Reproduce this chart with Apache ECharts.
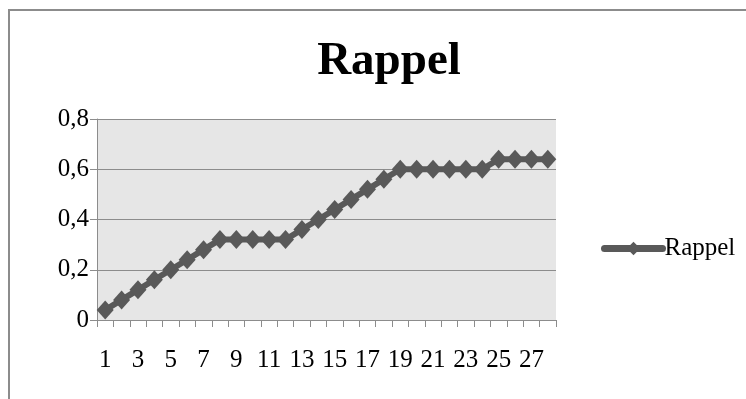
<!DOCTYPE html>
<html>
<head>
<meta charset="utf-8">
<script src="https://cdn.jsdelivr.net/npm/echarts@6/dist/echarts.min.js"></script>
<style>
  html, body { margin: 0; padding: 0; background: #fff; }
  #chart { width: 746px; height: 399px; }
</style>
</head>
<body>
<div id="chart"></div>
<script>
// Category labels 1..28 and recall values per step
const categories = ['1','2','3','4','5','6','7','8','9','10','11','12','13','14',
  '15','16','17','18','19','20','21','22','23','24','25','26','27','28'];
const rappel = [0.04, 0.08, 0.12, 0.16, 0.20, 0.24, 0.28, 0.32, 0.32, 0.32, 0.32, 0.32,
  0.36, 0.40, 0.44, 0.48, 0.52, 0.56, 0.60, 0.60, 0.60, 0.60, 0.60, 0.60,
  0.64, 0.64, 0.64, 0.64];
const yTicks = [0, 0.2, 0.4, 0.6, 0.8];

const serif = "'Liberation Serif', 'Times New Roman', serif";
const lineColor = '#595959';
const axisGray = '#8c8c8c';

const chart = echarts.init(document.getElementById('chart'), null, { renderer: 'canvas' });
chart.setOption({
  animation: false,
  backgroundColor: '#ffffff',
  title: {
    text: 'Rappel',
    left: 384,
    top: 33,
    textAlign: 'center',
    textStyle: { fontFamily: serif, fontSize: 47, fontWeight: 'bold', color: '#000' }
  },
  graphic: [{
    type: 'rect',
    shape: { x: 9, y: 10, width: 800, height: 500 },
    style: { fill: 'none', stroke: axisGray, lineWidth: 2 },
    silent: true,
    z: 0
  }],
  legend: {
    data: ['Rappel'],
    left: 596,
    top: 231,
    itemWidth: 58,
    itemHeight: 17,
    itemGap: 0,
    lineStyle: { color: lineColor, width: 7, cap: 'round' },
    itemStyle: { color: lineColor },
    textStyle: { fontFamily: serif, fontSize: 25, color: '#000', padding: [0, 0, 0, -3] }
  },
  grid: {
    left: 97, top: 119, right: 190, bottom: 79,
    show: true, backgroundColor: '#e6e6e6', borderWidth: 0
  },
  xAxis: {
    type: 'category',
    data: categories,
    boundaryGap: true,
    axisLine: { lineStyle: { color: axisGray, width: 1 } },
    axisTick: { show: true, inside: false, length: 7, alignWithLabel: false, interval: 0,
      lineStyle: { color: axisGray } },
    axisLabel: { interval: 1, margin: 28, fontFamily: serif, fontSize: 25, color: '#000' },
    splitLine: { show: false }
  },
  yAxis: {
    type: 'value',
    min: yTicks[0],
    max: yTicks[yTicks.length - 1],
    interval: 0.2,
    axisLine: { show: true, lineStyle: { color: axisGray, width: 1 } },
    axisTick: { show: true, length: 7, lineStyle: { color: axisGray } },
    axisLabel: {
      margin: 8, fontFamily: serif, fontSize: 25, color: '#000',
      formatter: v => (Math.round(v * 10) / 10).toString().replace('.', ',')
    },
    splitLine: { show: true, lineStyle: { color: axisGray, width: 1 } }
  },
  series: [{
    name: 'Rappel',
    type: 'line',
    data: rappel,
    symbol: 'diamond',
    symbolSize: [17, 19],
    showAllSymbol: true,
    lineStyle: { color: lineColor, width: 6 },
    itemStyle: { color: lineColor, borderWidth: 0 }
  }]
});
</script>
</body>
</html>
